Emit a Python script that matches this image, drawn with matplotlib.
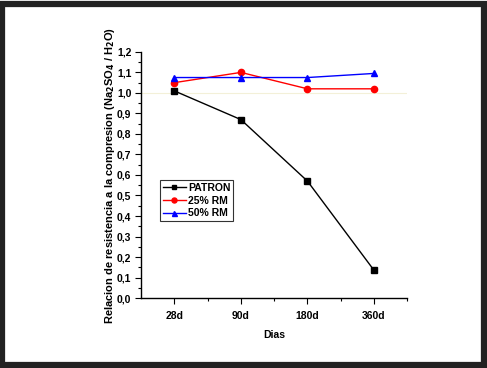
import matplotlib.pyplot as plt
from matplotlib.patches import Rectangle
from matplotlib.ticker import MultipleLocator, FixedLocator

plt.rcParams['font.family'] = ['Liberation Sans', 'DejaVu Sans']

dias = ["28d", "90d", "180d", "360d"]
patron = [1.01, 0.87, 0.57, 0.135]
rm25 = [1.05, 1.10, 1.02, 1.02]
rm50 = [1.075, 1.075, 1.075, 1.095]

fig = plt.figure(figsize=(4.87, 3.68), dpi=100)

# marco oscuro alrededor de la figura
fig.patches.append(Rectangle((0.005, 0.008), 0.988, 0.982, transform=fig.transFigure,
                             fill=False, edgecolor='#222222', linewidth=4.5))

ax = fig.add_axes([0.2895, 0.19, 0.547, 0.669])
x = list(range(len(dias)))

ax.axhline(1.0, color='#f3f0d8', linewidth=0.8, zorder=0)
ax.plot(x, patron, color='black', marker='s', markersize=4, linewidth=1, label='PATRON')
ax.plot(x, rm25, color='red', marker='o', markersize=4.5, linewidth=1, label='25% RM')
ax.plot(x, rm50, color='blue', marker='^', markersize=4.5, linewidth=1, label='50% RM')

ax.set_xlim(-0.5, 3.5)
ax.set_ylim(0, 1.2)
ax.set_xticks(x)
ax.set_xticklabels(dias)
ax.xaxis.set_minor_locator(FixedLocator([0.5, 1.5, 2.5, 3.5]))
ax.yaxis.set_major_locator(MultipleLocator(0.1))
ax.yaxis.set_minor_locator(MultipleLocator(0.05))
ax.yaxis.set_major_formatter(plt.FuncFormatter(lambda v, p: ("%.1f" % v).replace('.', ',')))

for s in ['top', 'right']:
    ax.spines[s].set_visible(False)
for s in ['left', 'bottom']:
    ax.spines[s].set_linewidth(1)

ax.tick_params(which='major', direction='out', length=4, width=0.8, labelsize=7.5)
ax.tick_params(which='minor', direction='out', length=2, width=0.8)
for lab in ax.get_xticklabels() + ax.get_yticklabels():
    lab.set_fontweight('bold')
ax.tick_params(axis='x', pad=5)
ax.tick_params(axis='y', pad=3)

ax.set_xlabel("Dias", fontsize=7.5, fontweight='bold', labelpad=7)
ax.set_ylabel("Relacion de resistencia a la compresion (Na$_\\mathbf{2}$SO$_\\mathbf{4}$ / H$_\\mathbf{2}$O)",
              fontsize=8, fontweight='bold', labelpad=0)

leg = ax.legend(loc='upper left', bbox_to_anchor=(0.07, 0.48), fontsize=7.5, frameon=True,
                fancybox=False, edgecolor='black', handlelength=2.2, borderpad=0.3,
                labelspacing=0.25, handletextpad=0.2, borderaxespad=0, markerscale=0.8)
leg.get_frame().set_linewidth(0.8)
for t in leg.get_texts():
    t.set_fontweight('bold')

fig.savefig("out.png", dpi=100)
